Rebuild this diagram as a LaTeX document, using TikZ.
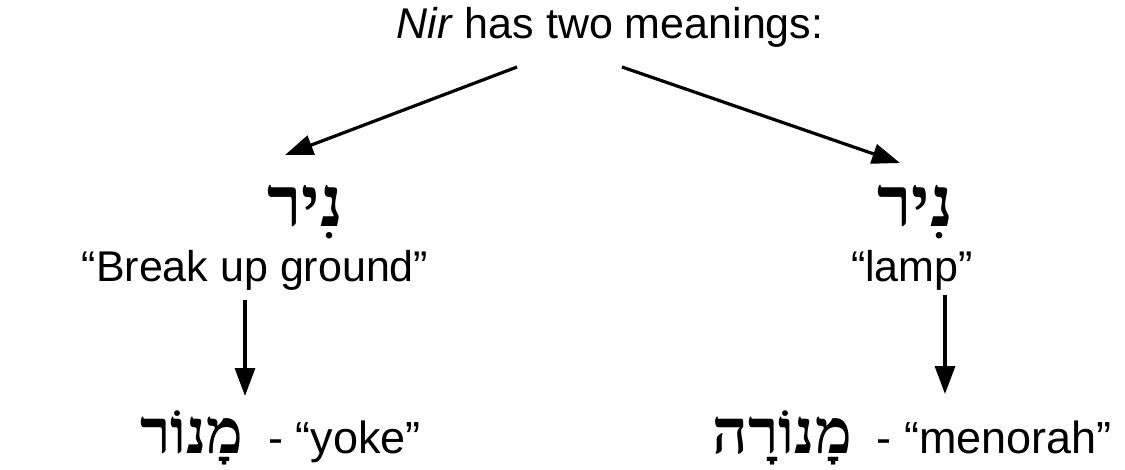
\documentclass[tikz,border=0pt]{standalone}
\usepackage{fontspec}
\setmainfont{Liberation Sans}
\newfontfamily\hebfont[Script=Hebrew]{Liberation Serif}
\TeXXeTstate=1
\usetikzlibrary{arrows.meta}
\tikzset{
  txt/.style={inner sep=0pt, anchor=base, font=\fontsize{43}{48}\selectfont},
  bottxt/.style={inner sep=0pt, font=\fontsize{45}{50}\selectfont},
  hebbig/.style={inner sep=0pt, anchor=base, font=\fontsize{70}{74}\hebfont\bfseries},
  arr/.style={line width=3.2pt, -{Triangle[length=28pt,width=20pt]}}
}
\newcommand{\hebsmall}[1]{{\fontsize{62}{66}\hebfont\bfseries\beginR #1\endR}}
\begin{document}
\begin{tikzpicture}[x=1pt,y=-1pt]
\useasboundingbox (0,0) rectangle (1125,469);
\node[txt] (title) at (610,38) {\textit{Nir} has two meanings:};
\coordinate (tl) at (517,67);
\coordinate (tr) at (622,67);
\node[hebbig] (nirL) at (305,226) {\beginR נִיר\endR};
\node[hebbig] (nirR) at (915,226) {\beginR נִיר\endR};
\coordinate (hl) at (285,155);
\coordinate (hr) at (900,163);
\node[txt] (break) at (255,281) {“Break up ground”};
\node[txt] (lamp) at (912,281) {“lamp”};
\coordinate (vl1) at (245,300);
\coordinate (vl2) at (245,396);
\coordinate (vr1) at (945,295);
\coordinate (vr2) at (945,394);
\node[bottxt, anchor=base west] (yoke) at (140,453) {\hebsmall{מָנוֹר}\ \ - “yoke”};
\node[bottxt, anchor=base east] (menorah) at (1112,453) {\hebsmall{מָנוֹרָה}\ \ - “menorah”};
\draw[arr] (tl) -- (hl);
\draw[arr] (tr) -- (hr);
\draw[arr] (vl1) -- (vl2);
\draw[arr] (vr1) -- (vr2);
\end{tikzpicture}
\end{document}
